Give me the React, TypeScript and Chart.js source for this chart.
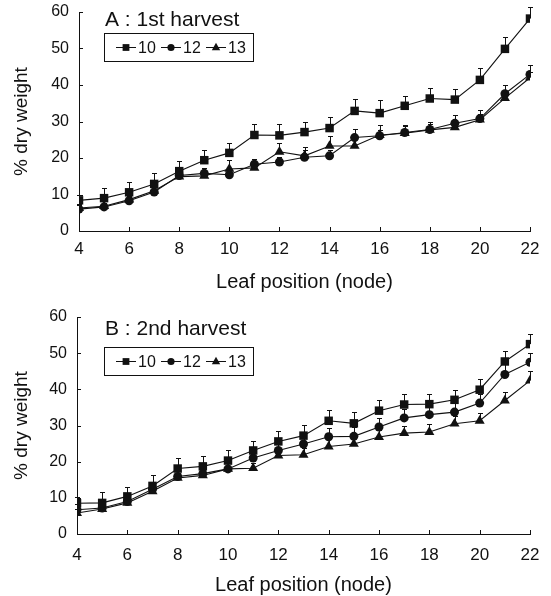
import React, { useEffect, useRef } from 'react';
import { Chart, registerables } from 'chart.js';

Chart.register(...registerables);

const nodes = [4, 5, 6, 7, 8, 9, 10, 11, 12, 13, 14, 15, 16, 17, 18, 19, 20, 21, 22];
const seriesLabels = ['10', '12', '13'];
const xTicks = [4, 6, 8, 10, 12, 14, 16, 18, 20, 22];
const yTicks = [0, 10, 20, 30, 40, 50, 60];

// Panel A: 1st harvest
const a10 = [8.4, 9.0, 10.6, 12.9, 16.4, 19.4, 21.4, 26.3, 26.2, 27.1, 28.2, 32.9, 32.3, 34.3, 36.3, 36.0, 41.4, 49.9, 58.2];
const a12 = [6.0, 6.6, 8.3, 10.7, 15.2, 15.8, 15.4, 18.3, 18.9, 20.2, 20.6, 25.6, 26.1, 27.0, 27.8, 29.5, 30.8, 37.6, 42.9];
const a13 = [6.3, 6.8, 8.6, 11.0, 14.9, 15.1, 17.0, 17.3, 21.7, 20.6, 23.3, 23.3, 26.3, 26.8, 27.7, 28.4, 30.5, 36.4, 42.0];
const a10err = [1.6, 2.9, 2.8, 3.0, 2.7, 2.8, 2.8, 3.1, 3.0, 2.8, 3.0, 3.2, 3.5, 2.8, 3.0, 2.9, 3.3, 3.2, 3.2];
const a12err = [1.0, 1.0, 1.0, 1.5, 1.5, 1.5, 1.5, 1.5, 1.5, 2.0, 1.5, 2.3, 3.0, 2.0, 2.0, 2.3, 2.3, 2.4, 2.5];
const a13err = [1.0, 1.0, 1.0, 1.5, 1.5, 1.5, 2.5, 2.0, 2.3, 2.4, 2.7, 2.0, 1.5, 2.0, 1.5, 1.5, 1.5, 1.5, 1.5];

// Panel B: 2nd harvest
const b10 = [8.5, 8.6, 10.4, 13.3, 18.1, 18.7, 20.3, 23.1, 25.6, 27.2, 31.3, 30.6, 34.1, 35.8, 35.9, 37.1, 39.9, 47.7, 52.5];
const b12 = [6.7, 7.2, 9.0, 12.4, 15.9, 16.7, 18.0, 21.0, 23.1, 24.9, 26.9, 27.0, 29.6, 32.1, 33.0, 33.7, 36.2, 44.1, 47.5];
const b13 = [5.8, 6.9, 8.6, 11.8, 15.5, 16.2, 18.0, 18.2, 21.7, 21.9, 24.2, 24.9, 26.8, 27.9, 28.2, 30.5, 31.3, 36.9, 42.4];
const b10err = [1.8, 2.9, 2.5, 2.9, 2.9, 2.8, 3.0, 2.7, 2.8, 3.0, 3.0, 3.0, 2.9, 2.8, 2.8, 2.8, 2.9, 2.9, 2.8];
const b12err = [1.5, 1.5, 1.8, 2.0, 2.0, 2.0, 2.2, 2.3, 2.3, 2.4, 2.5, 2.5, 2.5, 2.6, 2.5, 2.5, 2.5, 2.8, 2.6];
const b13err = [1.0, 1.0, 1.2, 1.5, 1.5, 1.5, 1.5, 1.5, 1.8, 1.8, 2.0, 2.0, 2.0, 2.0, 2.3, 2.0, 2.1, 2.3, 2.6];

const FONT = "'Liberation Sans', Arial, Helvetica, sans-serif";
const INK = '#111';
const pointStyles = ['rect', 'circle', 'triangle'];
const pointRadii = [6.0, 4.5, 5.8];

type PanelProps = {
  title: string;
  values: number[][];
  errors: number[][];
  top: number;
  left: number;
  xHeight: number;
  xTitlePad: number;
  xTickPad: number;
  titleY: number;
  boxTop: number;
};

function drawMarker(ctx: CanvasRenderingContext2D, style: string, x: number, y: number, r: number) {
  ctx.beginPath();
  if (style === 'rect') {
    const s = r * Math.SQRT1_2;
    ctx.rect(x - s, y - s, 2 * s, 2 * s);
  } else if (style === 'circle') {
    ctx.arc(x, y, r, 0, Math.PI * 2);
  } else {
    ctx.moveTo(x, y - r);
    ctx.lineTo(x + r * 0.9, y + r * 0.6);
    ctx.lineTo(x - r * 0.9, y + r * 0.6);
    ctx.closePath();
  }
  ctx.fill();
}

function Panel(props: PanelProps) {
  const ref = useRef<HTMLCanvasElement>(null);
  useEffect(() => {
    if (!ref.current) return;
    const { title, values, errors, top, left, xHeight, xTitlePad, xTickPad, titleY, boxTop } = props;

    const decor = {
      id: 'decor',
      beforeDatasetsDraw(chart: any) {
        const ctx = chart.ctx;
        const xs = chart.scales.x;
        const ys = chart.scales.y;
        ctx.save();
        ctx.strokeStyle = INK;
        ctx.lineWidth = 1;
        values.forEach((vals, i) => {
          vals.forEach((v, j) => {
            const px = Math.round(xs.getPixelForValue(nodes[j])) + 0.5;
            const py = ys.getPixelForValue(v);
            const pe = Math.round(ys.getPixelForValue(v + errors[i][j])) + 0.5;
            ctx.beginPath();
            ctx.moveTo(px, py);
            ctx.lineTo(px, pe);
            ctx.moveTo(px - 2.5, pe);
            ctx.lineTo(px + 2.5, pe);
            ctx.stroke();
          });
        });
        ctx.restore();
      },
      afterDraw(chart: any) {
        const ctx = chart.ctx;
        const xs = chart.scales.x;
        const ys = chart.scales.y;
        const area = chart.chartArea;
        ctx.save();
        ctx.strokeStyle = INK;
        ctx.lineWidth = 1;
        ctx.beginPath();
        xTicks.forEach((t) => {
          const px = Math.round(xs.getPixelForValue(t)) + 0.5;
          ctx.moveTo(px, area.bottom);
          ctx.lineTo(px, area.bottom - 4);
        });
        yTicks.forEach((t) => {
          if (t === 0) return;
          const py = Math.round(ys.getPixelForValue(t)) + 0.5;
          ctx.moveTo(area.left, py);
          ctx.lineTo(area.left + 4, py);
        });
        ctx.stroke();

        // panel title
        ctx.fillStyle = INK;
        ctx.font = `21px ${FONT}`;
        ctx.textAlign = 'left';
        ctx.textBaseline = 'alphabetic';
        ctx.fillText(title, 105, titleY);

        // legend box
        ctx.strokeRect(104.5, boxTop + 0.5, 149, 28);
        const cy = boxTop + 14.5;
        const starts = [116, 161, 206];
        ctx.font = `16px ${FONT}`;
        ctx.textBaseline = 'middle';
        seriesLabels.forEach((lab, i) => {
          const sx = starts[i];
          ctx.beginPath();
          ctx.moveTo(sx, cy);
          ctx.lineTo(sx + 20, cy);
          ctx.stroke();
          drawMarker(ctx, pointStyles[i], sx + 10, cy, pointRadii[i] * 0.8);
          ctx.fillText(lab, sx + 22, cy + 1);
        });
        ctx.restore();
      },
    };

    const chart = new Chart(ref.current, {
      type: 'line',
      data: {
        datasets: values.map((vals, i) => ({
          label: seriesLabels[i],
          data: vals.map((v, j) => ({ x: nodes[j], y: v })),
          borderColor: INK,
          borderWidth: 1.1,
          backgroundColor: INK,
          pointBackgroundColor: INK,
          pointBorderColor: INK,
          pointBorderWidth: 0,
          pointStyle: pointStyles[i] as any,
          pointRadius: pointRadii[i],
          tension: 0,
          fill: false,
        })),
      },
      options: {
        animation: false,
        responsive: false,
        devicePixelRatio: 1,
        layout: { padding: { left: 0, top, right: 21, bottom: 0 } },
        plugins: { legend: { display: false }, tooltip: { enabled: false }, title: { display: false } },
        scales: {
          x: {
            type: 'linear',
            min: 4,
            max: 22,
            afterBuildTicks: (s: any) => {
              s.ticks = xTicks.map((v) => ({ value: v }));
            },
            afterFit: (s: any) => {
              s.height = xHeight;
              s.paddingLeft = 0;
              s.paddingRight = 0;
              s.paddingTop = 0;
              s.paddingBottom = 0;
            },
            ticks: { color: INK, font: { family: FONT, size: 17 }, padding: xTickPad, maxRotation: 0, autoSkip: false },
            grid: { display: false, drawTicks: false },
            border: { display: true, color: INK, width: 1 },
            title: {
              display: true,
              text: 'Leaf position (node)',
              color: INK,
              font: { family: FONT, size: 20, lineHeight: 1 },
              padding: { top: 0, bottom: xTitlePad },
            },
          },
          y: {
            type: 'linear',
            min: 0,
            max: 60,
            afterBuildTicks: (s: any) => {
              s.ticks = yTicks.map((v) => ({ value: v }));
            },
            afterFit: (s: any) => {
              s.width = left;
              s.paddingLeft = 0;
              s.paddingRight = 0;
              s.paddingTop = 0;
              s.paddingBottom = 0;
            },
            ticks: { color: INK, font: { family: FONT, size: 16 }, padding: 10 },
            grid: { display: false, drawTicks: false },
            border: { display: true, color: INK, width: 1 },
            title: {
              display: true,
              text: '% dry weight',
              color: INK,
              font: { family: FONT, size: 19 },
              padding: { top: 10, bottom: 0 },
            },
          },
        },
      },
      plugins: [decor],
    });
    return () => chart.destroy();
  }, []);
  return <canvas ref={ref} width={551} height={298} style={{ display: 'block', width: 551, height: 298 }} />;
}

export default function App() {
  return (
    <div style={{ position: 'absolute', left: 0, top: 0, width: 551, height: 596, background: '#fff' }}>
      <Panel
        title="A : 1st harvest"
        values={[a10, a12, a13]}
        errors={[a10err, a12err, a13err]}
        top={12}
        left={79}
        xHeight={67}
        xTitlePad={6}
        xTickPad={8}
        titleY={26}
        boxTop={33}
      />
      <Panel
        title="B : 2nd harvest"
        values={[b10, b12, b13]}
        errors={[b10err, b12err, b13err]}
        top={19}
        left={77}
        xHeight={62}
        xTitlePad={1}
        xTickPad={11}
        titleY={37}
        boxTop={49}
      />
    </div>
  );
}
